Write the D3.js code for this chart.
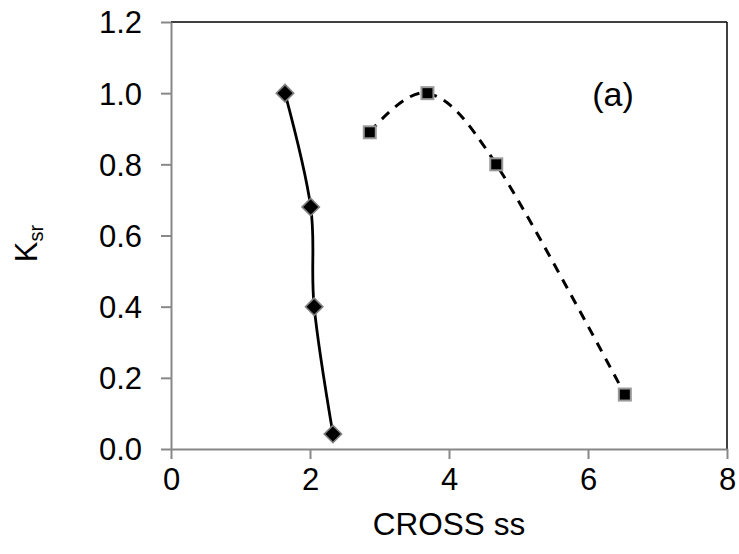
<!DOCTYPE html>
<html>
<head>
<meta charset="utf-8">
<script src="https://cdn.jsdelivr.net/npm/d3@7"></script>
<style>
  html, body { margin: 0; padding: 0; background: #fff; }
  svg { display: block; font-family: "Liberation Sans", Arial, sans-serif; }
</style>
</head>
<body>
<svg id="chart" width="739" height="554"></svg>
<script>
// Data
const seriesA_x = [1.64, 2.01, 2.06, 2.33];
const seriesA_y = [1.00, 0.68, 0.40, 0.042];
const seriesB_x = [2.86, 3.69, 4.68, 6.53];
const seriesB_y = [0.89, 1.00, 0.80, 0.153];
const xTicks = [0, 2, 4, 6, 8];
const yTicks = [0.0, 0.2, 0.4, 0.6, 0.8, 1.0, 1.2];
const xTitle = "CROSS ss";
const yTitleMain = "K";
const yTitleSub = "sr";
const annotation = "(a)";

const svg = d3.select("#chart");
const m = { left: 171, top: 22, right: 727, bottom: 449 };

const x = d3.scaleLinear().domain([0, 8]).range([m.left, m.right]);
const y = d3.scaleLinear().domain([0, 1.2]).range([m.bottom, m.top]);

const axisGray = "#888888";

// Frame: top and right black
svg.append("line").attr("x1", m.left).attr("x2", m.right).attr("y1", m.top).attr("y2", m.top)
  .attr("stroke", "#000").attr("stroke-width", 1.5);
svg.append("line").attr("x1", m.right).attr("x2", m.right).attr("y1", m.top).attr("y2", m.bottom)
  .attr("stroke", "#000").attr("stroke-width", 1.5);

// Axes
const xAxis = d3.axisBottom(x).tickValues(xTicks).tickFormat(d3.format("d")).tickSizeInner(10).tickSizeOuter(0).tickPadding(9);
const yAxis = d3.axisLeft(y).tickValues(yTicks).tickFormat(d3.format(".1f")).tickSizeInner(10).tickSizeOuter(0).tickPadding(19);

const gx = svg.append("g").attr("transform", `translate(0,${m.bottom})`).call(xAxis);
const gy = svg.append("g").attr("transform", `translate(${m.left},0)`).call(yAxis);

[gx, gy].forEach(g => {
  g.select(".domain").attr("stroke", axisGray).attr("stroke-width", 2);
  g.selectAll(".tick line").attr("stroke", axisGray).attr("stroke-width", 2);
  g.selectAll(".tick text").attr("fill", "#000").style("font-size", "31px")
    .style("font-family", '"Liberation Sans", Arial, sans-serif');
});
gx.selectAll(".tick text").attr("dy", "0.71em");
gy.selectAll(".tick text").attr("dy", "0.35em");

// Line generators
const curve = d3.curveCardinal.tension(0);
const lineGen = d3.line().x(d => x(d[0])).y(d => y(d[1])).curve(curve);

const dataA = seriesA_x.map((v, i) => [v, seriesA_y[i]]);
const dataB = seriesB_x.map((v, i) => [v, seriesB_y[i]]);

svg.append("path").datum(dataA).attr("d", lineGen)
  .attr("fill", "none").attr("stroke", "#000").attr("stroke-width", 2.8);
svg.append("path").datum(dataB).attr("d", lineGen)
  .attr("fill", "none").attr("stroke", "#000").attr("stroke-width", 3)
  .attr("stroke-dasharray", "10,8");

// Markers
const diamond = d3.symbol().type(d3.symbolSquare).size(150);
svg.append("g").selectAll("path").data(dataA).join("path")
  .attr("d", diamond)
  .attr("transform", d => `translate(${x(d[0])},${y(d[1])}) rotate(45)`)
  .attr("fill", "#000").attr("stroke", "#7f7f7f").attr("stroke-width", 1.6);

const sq = 12;
svg.append("g").selectAll("rect").data(dataB).join("rect")
  .attr("x", d => x(d[0]) - sq / 2).attr("y", d => y(d[1]) - sq / 2)
  .attr("width", sq).attr("height", sq)
  .attr("fill", "#000").attr("stroke", "#999999").attr("stroke-width", 2);

// Axis titles
svg.append("text").attr("x", 449).attr("y", 535)
  .attr("text-anchor", "middle").style("font-size", "31.5px").attr("fill", "#000")
  .text(xTitle);

const yt = svg.append("text")
  .attr("transform", `translate(37,${(m.top + m.bottom) / 2 + 8}) rotate(-90)`)
  .attr("text-anchor", "middle").style("font-size", "31px").attr("fill", "#000");
yt.append("tspan").text(yTitleMain);
yt.append("tspan").attr("dy", "0.28em").style("font-size", "20px").text(yTitleSub);

// Annotation
svg.append("text").attr("x", 613).attr("y", 106).attr("text-anchor", "middle")
  .style("font-size", "34px").attr("fill", "#000").text(annotation);
</script>
</body>
</html>
